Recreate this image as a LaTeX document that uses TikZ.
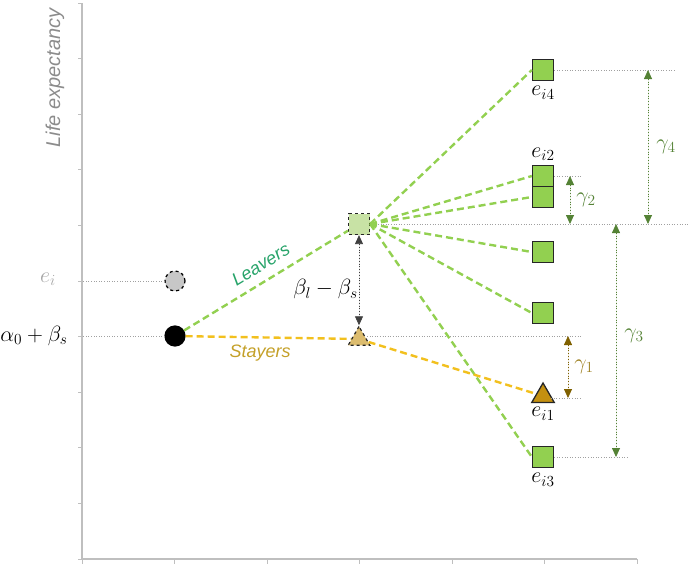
\RequirePackage{fix-cm}
\documentclass[tikz,border=0pt]{standalone}
\usepackage{amsmath}
\usepackage{fontspec}
\setsansfont{Liberation Sans}
\usepackage{tikz}
\usetikzlibrary{
  arrows.meta,
  positioning,
  shapes.geometric
}
\definecolor{leafgreen}{RGB}{146,208,80}
\definecolor{palegreen}{RGB}{200,226,165}
\definecolor{darkgreen}{RGB}{84,130,53}
\definecolor{leavteal}{RGB}{38,163,105}
\definecolor{goldline}{RGB}{242,192,30}
\definecolor{goldtext}{RGB}{196,160,40}
\definecolor{goldfill}{RGB}{196,144,16}
\definecolor{tanfill}{RGB}{220,188,110}
\definecolor{olivebrown}{RGB}{127,96,0}
\definecolor{axisgray}{RGB}{191,191,191}
\definecolor{guidegray}{RGB}{160,160,160}
\definecolor{inkgray}{RGB}{64,64,64}
\tikzset{
  axisline/.style={draw=axisgray,line width=1.3pt},
  guide/.style={draw=guidegray,dotted,line width=0.6pt},
  dot/.style={circle,draw=black,line width=1.2pt,minimum size=20pt,inner sep=0pt},
  obsbox/.style={rectangle,draw=black!85,line width=1.3pt,fill=leafgreen,
    minimum size=21pt,inner sep=0pt},
  cfbox/.style={rectangle,draw=black!85,line width=1.2pt,dashed,fill=palegreen,
    minimum size=21pt,inner sep=0pt},
  obstri/.style={regular polygon,regular polygon sides=3,draw=black!85,
    line width=1.3pt,fill=goldfill,minimum size=26pt,inner sep=0pt},
  cftri/.style={regular polygon,regular polygon sides=3,draw=black!85,
    line width=1.2pt,dashed,fill=tanfill,minimum size=25pt,inner sep=0pt},
  leaveflow/.style={draw=leafgreen,line width=2.4pt,dash pattern=on 7pt off 4pt},
  stayflow/.style={draw=goldline,line width=2.4pt,dash pattern=on 7pt off 4pt},
  dimarrow/.style={{Triangle[width=8pt,length=9pt]}-{Triangle[width=8pt,length=9pt]},
    dotted,line width=0.8pt},
  mlab/.style={font=\fontsize{22}{24}\selectfont,inner sep=1pt},
  slab/.style={font=\fontsize{18}{20}\selectfont\sffamily\itshape,inner sep=1pt}
}

\begin{document}
\begin{tikzpicture}[x=1pt,y=-1pt]
  \useasboundingbox (0,0) rectangle (690,568);
  % axes
  \coordinate (origin) at (82,559);
  \coordinate (ytop) at (82,3);
  \coordinate (xend) at (637,559);
  \draw[axisline] (ytop) -- (origin) -- (xend);
  \foreach \k in {0,...,10}
    \draw[axisline,line width=0.9pt] (82,3+55.6*\k) -- ++(-4.5,0);
  \foreach \k in {0,...,6}
    \draw[axisline,line width=0.9pt] (82+92.5*\k,559) -- ++(0,4.5);
  \node[slab,text=black!45,rotate=90,font=\fontsize{20}{22}\selectfont\sffamily\itshape]
    (ylab) at (55,78) {Life expectancy};

  % observed and counterfactual states
  \node[dot,fill=black] (start) at (175,336) {};
  \node[dot,dashed,fill=black!22] (ghost) at (175,281) {};
  \node[cfbox] (sqcf) at (359,224) {};
  \node[cftri] (tricf) at (359,339) {};
  \node[obsbox] (e4) at (543,70) {};
  \node[obsbox] (e2a) at (543,176) {};
  \node[obsbox] (e2b) at (543,197) {};
  \node[obsbox] (e5) at (543,252) {};
  \node[obsbox] (e6) at (543,313) {};
  \node[obstri] (e1) at (543,396) {};
  \node[obsbox] (e3) at (543,457) {};

  % guide lines
  \coordinate (rL) at (690,224);
  \coordinate (r4) at (676,70);
  \coordinate (r2) at (582,176);
  \coordinate (rS) at (582,336);
  \coordinate (r1) at (582,398);
  \coordinate (r3) at (628,457);
  \draw[guide] (ghost) -- (ghost -| origin);
  \draw[guide] (start) -- (start -| origin);
  \draw[guide] (sqcf.east) -- (rL);
  \draw[guide] (e4.east) -- (r4);
  \draw[guide] (e2a.east) -- (r2);
  \draw[guide] (tricf.east |- rS) -- (rS);
  \draw[guide] (e1.east |- r1) -- (r1);
  \draw[guide] (e3.east) -- (r3);

  % trajectories
  \draw[leaveflow] (start) -- node[slab,text=leavteal,sloped,above=8pt,pos=0.52]{Leavers} (sqcf);
  \draw[stayflow] (start) -- node[slab,text=goldtext,below=5pt,pos=0.45]{Stayers} (tricf);
  \foreach \t in {e4,e2a,e2b,e5,e6,e3}
    \draw[leaveflow] (sqcf.east) -- (\t.west);
  \draw[stayflow] (tricf) -- (e1);

  % outcome labels
  \node[mlab,text=black!35] (eilab) at (48,279) {$e_i$};
  \node[mlab] (alab) at (34,336) {$\alpha_0+\beta_s$};
  \node[mlab,below=4pt of e4] (le4) {$e_{i4}$};
  \node[mlab,above=3pt of e2a] (le2) {$e_{i2}$};
  \node[mlab,below=3pt of e1] (le1) {$e_{i1}$};
  \node[mlab,below=4pt of e3] (le3) {$e_{i3}$};

  % differences
  \coordinate (g1t) at (568,336);
  \coordinate (g1b) at (568,398);
  \coordinate (g2t) at (570,176);
  \coordinate (g2b) at (570,224);
  \coordinate (g3t) at (616,224);
  \coordinate (g3b) at (616,457);
  \coordinate (g4t) at (648,70);
  \coordinate (g4b) at (648,224);
  \draw[dimarrow,draw=inkgray,fill=inkgray] (sqcf.south) --
    node[mlab,left=0pt,pos=0.6]{$\beta_l-\beta_s$} (tricf.north);
  \draw[dimarrow,draw=olivebrown,fill=olivebrown] (g1t) --
    node[mlab,text=goldtext!80!black,right=5pt]{$\gamma_1$} (g1b);
  \draw[dimarrow,draw=darkgreen,fill=darkgreen] (g2t) --
    node[mlab,text=darkgreen,right=5pt]{$\gamma_2$} (g2b);
  \draw[dimarrow,draw=darkgreen,fill=darkgreen] (g3t) --
    node[mlab,text=darkgreen,right=7pt,pos=0.48]{$\gamma_3$} (g3b);
  \draw[dimarrow,draw=darkgreen,fill=darkgreen] (g4t) --
    node[mlab,text=darkgreen,right=7pt,pos=0.5]{$\gamma_4$} (g4b);
\end{tikzpicture}
\end{document}
